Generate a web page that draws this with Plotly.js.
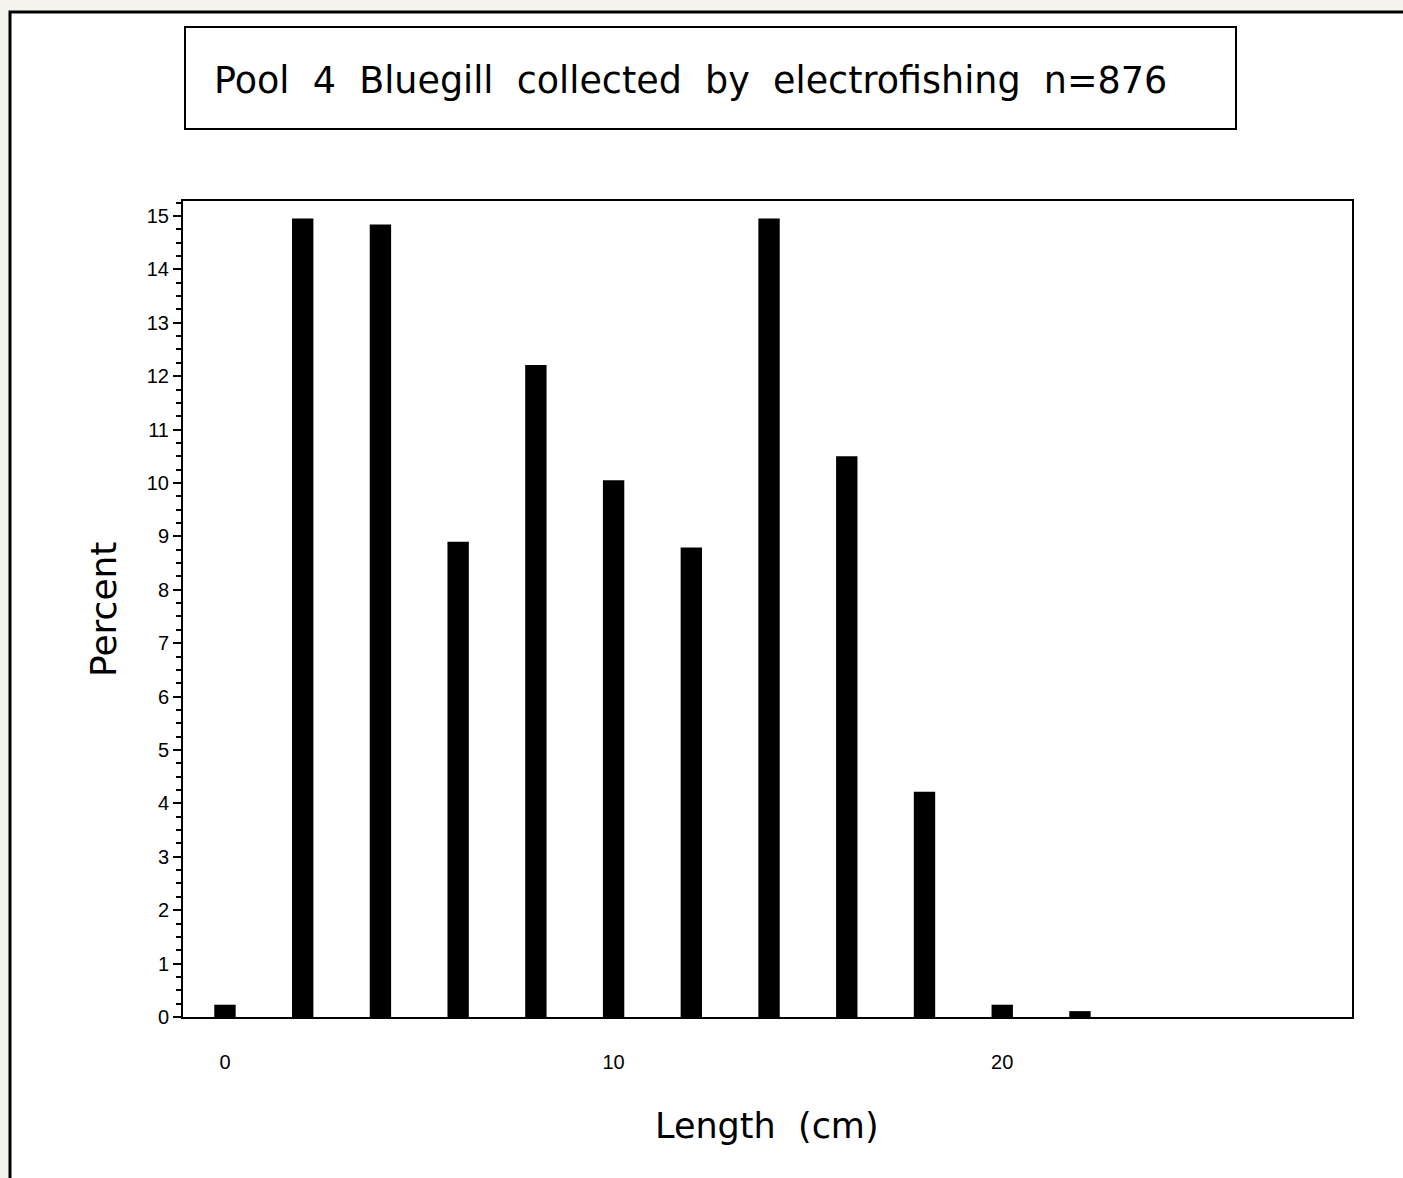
<!DOCTYPE html>
<html>
<head>
<meta charset="utf-8">
<script src="https://cdn.plot.ly/plotly-3.0.1.min.js"></script>
<style>
html,body{margin:0;padding:0;background:#f6f4ef;}
#chart{width:1403px;height:1178px;}
</style>
</head>
<body>
<div id="chart"></div>
<script>
// Data: length classes (cm) and percent of fish
const lengthCm = [0, 2, 4, 6, 8, 10, 12, 14, 16, 18, 20, 22];
const percent = [0.23, 14.95, 14.84, 8.90, 12.21, 10.05, 8.79, 14.95, 10.50, 4.22, 0.23, 0.11];
const xTickVals = [0, 10, 20];
const xTickText = ['0', '10', '20'];
const yTickVals = [0,1,2,3,4,5,6,7,8,9,10,11,12,13,14,15];
const chartTitle = 'Pool\u00a0 4\u00a0 Bluegill\u00a0 collected\u00a0 by\u00a0 electrofishing\u00a0 n=876';
const xTitle = 'Length\u00a0 (cm)';
const yTitle = 'Percent';

const W = 1403, H = 1178;
const L = 183, R = 1352, T = 201, B = 1017;
const pw = R - L, ph = B - T;
const px = v => (v - L) / pw;
const py = v => (B - v) / ph;
const labelFont = 'DejaVu Sans, Verdana, sans-serif';

const trace = {
  type: 'bar',
  x: lengthCm,
  y: percent,
  width: 0.55,
  marker: {color: '#000000', line: {width: 0}},
  hoverinfo: 'x+y'
};

const layout = {
  width: W, height: H,
  margin: {l: L, r: W - R, t: T, b: H - B, pad: 0},
  paper_bgcolor: 'rgba(0,0,0,0)',
  plot_bgcolor: '#ffffff',
  showlegend: false,
  font: {family: 'Liberation Sans, Arial, sans-serif', color: '#000'},
  title: {
    text: chartTitle,
    font: {size: 36.5, family: labelFont, color: '#000'},
    xref: 'container', yref: 'container',
    x: 214 / W, xanchor: 'left',
    y: 1 - 80 / H, yanchor: 'middle'
  },
  xaxis: {
    range: [-1.08, 29.0],
    tickmode: 'array', tickvals: xTickVals, ticktext: xTickText,
    ticks: 'outside', ticklen: 26, tickcolor: 'rgba(0,0,0,0)',
    tickfont: {size: 20, color: '#000'},
    showgrid: false, zeroline: false,
    showline: true, linecolor: '#000', linewidth: 2, mirror: true
  },
  yaxis: {
    range: [0, 15.28],
    tickmode: 'array', tickvals: yTickVals,
    ticks: 'outside', ticklen: 8, tickwidth: 2, tickcolor: '#000',
    minor: {dtick: 0.25, ticks: 'outside', ticklen: 5, tickwidth: 2, tickcolor: '#000'},
    tickfont: {size: 20, color: '#000'},
    showgrid: false, zeroline: false,
    showline: true, linecolor: '#000', linewidth: 2, mirror: true
  },
  annotations: [
    {text: xTitle, xref: 'paper', yref: 'paper', x: px(767), y: py(1126),
     xanchor: 'center', yanchor: 'middle', showarrow: false,
     font: {size: 35, family: labelFont, color: '#000'}},
    {text: yTitle, xref: 'paper', yref: 'paper', x: px(103), y: py(610),
     xanchor: 'center', yanchor: 'middle', showarrow: false, textangle: -90,
     font: {size: 36, family: labelFont, color: '#000'}}
  ],
  shapes: [
    // white panel with black border
    {type: 'rect', xref: 'paper', yref: 'paper', layer: 'below',
     x0: px(10), x1: px(1420), y0: py(1200), y1: py(12),
     fillcolor: '#ffffff', line: {color: '#000', width: 3}},
    // title box
    {type: 'rect', xref: 'paper', yref: 'paper', layer: 'below',
     x0: px(185), x1: px(1236), y0: py(129), y1: py(27),
     fillcolor: 'rgba(0,0,0,0)', line: {color: '#000', width: 2}}
  ]
};

Plotly.newPlot('chart', [trace], layout, {displayModeBar: false, staticPlot: true});
</script>
</body>
</html>
